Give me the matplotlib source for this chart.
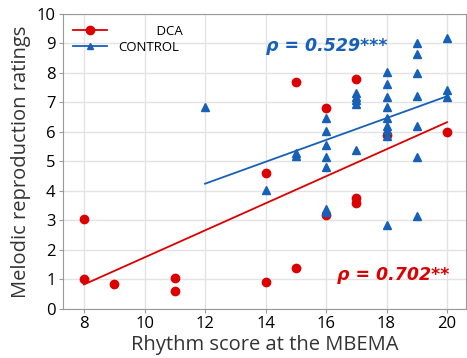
import numpy as np
import matplotlib
matplotlib.use("Agg")
import matplotlib.pyplot as plt

plt.rcParams['font.family'] = ['Open Sans', 'DejaVu Sans']

# DCA group
dca_x = [8, 8, 9, 11, 11, 14, 14, 15, 15, 16, 16, 17, 17, 17, 18, 20]
dca_y = [3.05, 1.0, 0.85, 1.05, 0.6, 4.6, 0.9, 7.7, 1.4, 6.8, 3.2, 7.8, 3.75, 3.6, 5.9, 6.0]

# CONTROL group
ctl_x = [12, 14, 15, 15,
         16, 16, 16, 16, 16, 16, 16,
         17, 17, 17, 17, 17,
         18, 18, 18, 18, 18, 18, 18, 18, 18,
         19, 19, 19, 19, 19, 19, 19,
         20, 20, 20]
ctl_y = [6.85, 4.03, 5.3, 5.18,
         6.46, 6.04, 5.56, 5.16, 4.82, 3.39, 3.3,
         7.33, 7.2, 7.07, 6.94, 5.4,
         8.04, 7.62, 7.2, 6.84, 6.46, 6.2, 6.05, 5.85, 2.85,
         9.0, 8.63, 7.99, 7.23, 6.2, 5.14, 3.15,
         9.2, 7.42, 7.18]

red = '#dc0000'
blue = '#1660b8'

fig = plt.figure(figsize=(4.67, 3.58), dpi=100)
ax = fig.add_axes([0.134, 0.137, 0.864, 0.824])

ax.plot(dca_x, dca_y, 'o', color=red, markersize=6, zorder=3)
ax.plot(ctl_x, ctl_y, '^', color=blue, markersize=5.5, zorder=3)

# linear fits over each group's range
for xs, ys, c in [(dca_x, dca_y, red), (ctl_x, ctl_y, blue)]:
    k, b = np.polyfit(xs, ys, 1)
    xx = np.array([min(xs), max(xs)])
    ax.plot(xx, k * xx + b, '-', color=c, lw=1.3, zorder=2)

# legend handles
ax.plot([], [], '-o', color=red, markersize=6, lw=1.3, label='           DCA')
ax.plot([], [], '-^', color=blue, markersize=5, lw=1.3, label='CONTROL')
ax.legend(loc='upper left', frameon=False, fontsize=9.5, handlelength=2.6,
          borderaxespad=0.4, labelspacing=0.25, handletextpad=0.8)

ax.text(14, 8.92, 'ρ = 0.529***', color=blue, fontsize=12.5, fontweight='bold',
        fontstyle='italic', va='center', ha='left', family='DejaVu Sans')
ax.text(16.35, 1.15, 'ρ = 0.702**', color=red, fontsize=12.5, fontweight='bold',
        fontstyle='italic', va='center', ha='left', family='DejaVu Sans')

ax.set_xlim(7.29, 20.63)
ax.set_ylim(0, 10)
ax.set_xticks(range(8, 21, 2))
ax.set_yticks(range(0, 11))
ax.tick_params(labelsize=12, length=3, color='#999999', pad=2)
ax.grid(True, color='#e3e3e3', lw=1)
ax.set_axisbelow(True)
for s in ax.spines.values():
    s.set_color('#999999')

ax.set_xlabel('Rhythm score at the MBEMA', fontsize=14.5, color='#333333', labelpad=2)
ax.set_ylabel('Melodic reproduction ratings', fontsize=14.5, color='#333333', labelpad=4)

fig.savefig('out.png', dpi=100)
